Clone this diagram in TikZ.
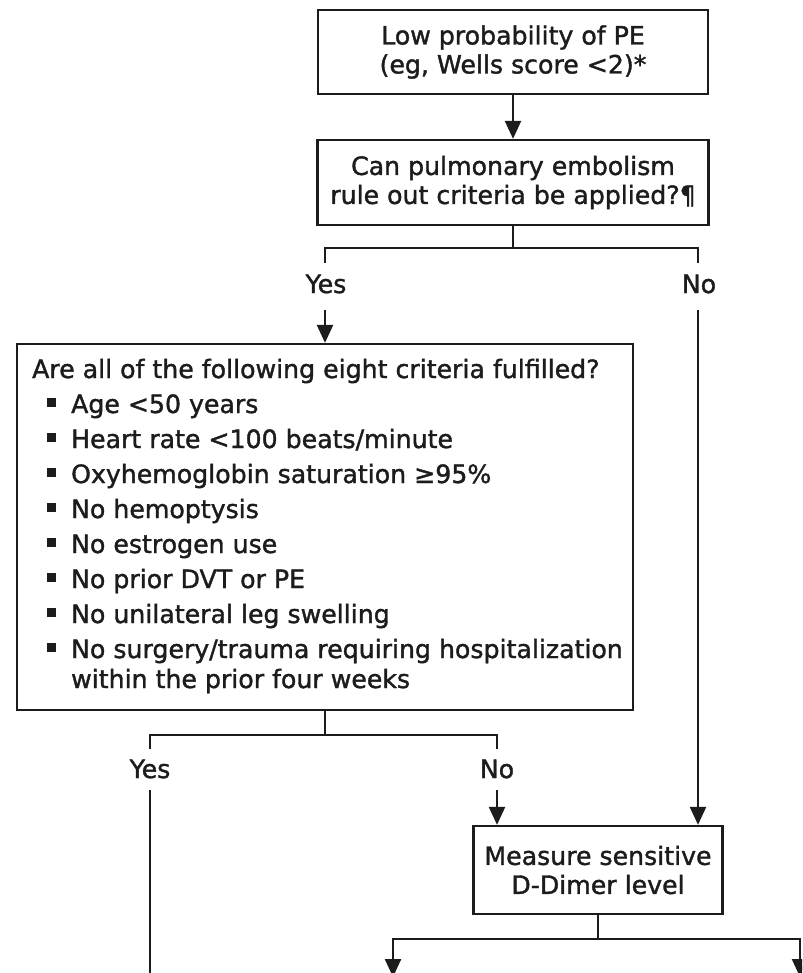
\documentclass[tikz,border=0pt]{standalone}
\usepackage{fontspec}
\setmainfont{DejaVu Sans}[RawFeature={embolden=1.4}]
\usetikzlibrary{arrows.meta}
\definecolor{ink}{RGB}{28,28,28}
\begin{document}
\begin{tikzpicture}[x=1pt,y=-1pt,
  line width=2.3pt, draw=ink, text=ink,
  box/.style={draw=ink, line width=2.3pt, inner sep=0pt, align=center,
    font=\fontsize{25.2}{29}\selectfont},
  txt/.style={anchor=base west, inner sep=0pt, font=\fontsize{25.2}{29}\selectfont},
  lbl/.style={anchor=base, inner sep=0pt, font=\fontsize{25.2}{29}\selectfont},
  bul/.style={fill=ink, inner sep=0pt, minimum size=8.5pt, draw=none},
  arr/.style={-{Triangle[width=16pt,length=18pt]}}]
\useasboundingbox (0,0) rectangle (802,973);
\clip (0,0) rectangle (802,973);
\fill[white] (0,0) rectangle (802,973);

% boxes
\node[box, minimum width=390pt, minimum height=84pt] (b1) at (513,52)
  {Low probability of PE\\(eg, Wells score <2)*};
\node[box, minimum width=391pt, minimum height=85pt] (b2) at (513,182.5)
  {Can pulmonary embolism\\rule out criteria be applied?¶};
\node[draw=ink, line width=2.3pt, inner sep=0pt, minimum width=616pt, minimum height=366pt] (b3) at (325,527) {};
\node[box, minimum width=249pt, minimum height=88pt] (b4) at (598,870)
  {Measure sensitive\\D-Dimer level};

% list inside b3
\node[txt] (q3) at (31,378) {Are all of the following eight criteria fulfilled?};
\node[txt] (i1) at (70,413) {Age <50 years};
\node[txt] (i2) at (70,448) {Heart rate <100 beats/minute};
\node[txt] (i3) at (70,483) {Oxyhemoglobin saturation ≥95\%};
\node[txt] (i4) at (70,518) {No hemoptysis};
\node[txt] (i5) at (70,553) {No estrogen use};
\node[txt] (i6) at (70,588) {No prior DVT or PE};
\node[txt] (i7) at (70,623) {No unilateral leg swelling};
\node[txt] (i8) at (70,658) {No surgery/trauma requiring hospitalization};
\node[txt] (i8b) at (70,688) {within the prior four weeks};
\foreach \k/\y in {1/413,2/448,3/483,4/518,5/553,6/588,7/623,8/658}
  \node[bul] (bu\k) at (51.5,\y-10.5) {};

% labels
\node[lbl] (yes1) at (326,293) {Yes};
\node[lbl] (no1) at (699,293) {No};
\node[lbl] (yes2) at (150,778) {Yes};
\node[lbl] (no2) at (497,778) {No};

% coordinates
\coordinate (h1c) at (513,248);
\coordinate (h1l) at (325,248);
\coordinate (h1r) at (698,248);
\coordinate (s1l) at (325,263);
\coordinate (s1r) at (698,263);
\coordinate (a1) at (325,310);
\coordinate (n1) at (698,310);
\coordinate (h2c) at (325,735);
\coordinate (h2l) at (150,735);
\coordinate (h2r) at (497,735);
\coordinate (s2l) at (150,749);
\coordinate (s2r) at (497,749);
\coordinate (y2) at (150,790);
\coordinate (y2e) at (150,990);
\coordinate (n2) at (497,790);
\coordinate (h3c) at (598,939);
\coordinate (d1) at (393,977);
\coordinate (d2) at (800,977);

% connectors
\draw[arr] (b1.south) -- (b2.north);
\draw (b2.south) -- (h1c);
\draw (s1l) -- (h1l) -- (h1r) -- (s1r);
\draw[arr] (a1) -- (b3.north);
\draw[arr] (n1) -- (n1 |- b4.north);
\draw (b3.south) -- (h2c);
\draw (s2l) -- (h2l) -- (h2r) -- (s2r);
\draw (y2) -- (y2e);
\draw[arr] (n2) -- (n2 |- b4.north);
\draw (b4.south) -- (h3c);
\draw[arr] (h3c) -| (d1);
\draw[arr] (h3c) -| (d2);
\end{tikzpicture}
\end{document}
